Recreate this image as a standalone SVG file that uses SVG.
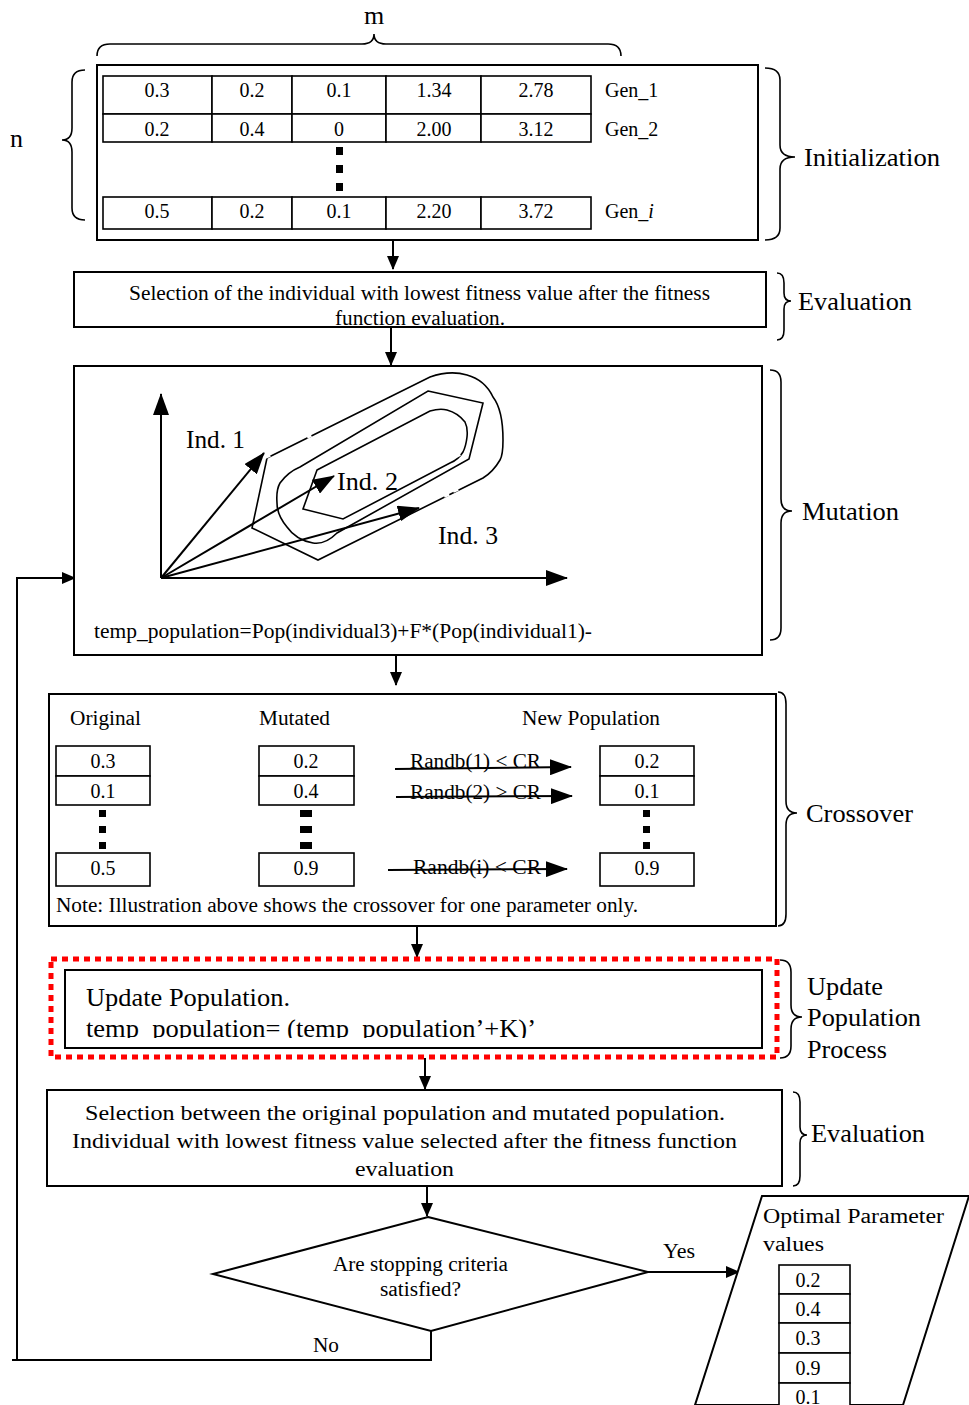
<svg xmlns="http://www.w3.org/2000/svg" width="969" height="1405" viewBox="0 0 969 1405">
  <defs>
    <marker id="ah" viewBox="0 0 14 12" refX="13" refY="6" markerWidth="14" markerHeight="12" markerUnits="userSpaceOnUse" orient="auto">
      <path d="M0,0 L14,6 L0,12 Z" fill="#000"/>
    </marker>
    <marker id="ahs" viewBox="0 0 22 16" refX="21" refY="8" markerWidth="22" markerHeight="16" markerUnits="userSpaceOnUse" orient="auto">
      <path d="M0,0 L22,8 L0,16 Z" fill="#000"/>
    </marker>
    <clipPath id="upclip"><rect x="65" y="970" width="697" height="68"/></clipPath>
    <clipPath id="evclip"><rect x="74" y="272" width="692" height="55"/></clipPath>
  </defs>
  <style>
    text { font-family: "Liberation Serif", "Times New Roman", serif; fill: #000; }
    .box { fill: #fff; stroke: #000; stroke-width: 2; }
    .cell { fill: #fff; stroke: #000; stroke-width: 1.6; }
    .ln { fill: none; stroke: #000; stroke-width: 2; }
    .br { fill: none; stroke: #000; stroke-width: 1.6; }
    .c { font-size: 20px; text-anchor: middle; }
    .t { font-size: 20px; }
    .lab { font-size: 26px; }
    .dot { fill: #000; }
  </style>
  <rect width="969" height="1405" fill="#fff"/>

  <!-- braces with their stage labels -->
  <g id="braces">
    <text x="374" y="24" class="lab" text-anchor="middle" font-size="24">m</text>
    <path class="br" d="M97,56 Q97,44 110,44 L362,44 Q374,44 374,34 Q374,44 386,44 L608,44 Q621,44 621,56"/>
    <text x="10" y="147" class="lab" font-size="24">n</text>
    <path class="br" d="M85,70 Q72,70 72,82 L72,128 Q72,140 62,140 Q72,140 72,152 L72,208 Q72,220 85,220"/>
    <path class="br" d="M765,68 Q780,68 780,80 L780,145 Q780,157 795,157 Q780,157 780,169 L780,228 Q780,240 765,240"/>
    <text x="804" y="166" class="lab" textLength="136" lengthAdjust="spacingAndGlyphs">Initialization</text>
    <path class="br" d="M777,273 Q784,273 784,283 L784,293 Q784,301 791,301 Q784,301 784,309 L784,330 Q784,340 777,340"/>
    <text x="798" y="310" class="lab" textLength="114" lengthAdjust="spacingAndGlyphs">Evaluation</text>
    <path class="br" d="M770,370 Q781,370 781,382 L781,499 Q781,511 792,511 Q781,511 781,523 L781,628 Q781,640 770,640"/>
    <text x="802" y="520" class="lab" textLength="97" lengthAdjust="spacingAndGlyphs">Mutation</text>
    <path class="br" d="M778,692 Q786,692 786,704 L786,801 Q786,813 797,813 Q786,813 786,825 L786,914 Q786,926 778,926"/>
    <text x="806" y="822" class="lab" textLength="107" lengthAdjust="spacingAndGlyphs">Crossover</text>
    <path class="br" d="M780,960 Q791,960 791,972 L791,1005 Q791,1017 802,1017 Q791,1017 791,1029 L791,1046 Q791,1058 780,1058"/>
    <text x="807" y="995" class="lab" textLength="76" lengthAdjust="spacingAndGlyphs">Update</text>
    <text x="807" y="1026" class="lab" textLength="114" lengthAdjust="spacingAndGlyphs">Population</text>
    <text x="807" y="1058" class="lab" textLength="80" lengthAdjust="spacingAndGlyphs">Process</text>
    <path class="br" d="M793,1092 Q800,1092 800,1102 L800,1127 Q800,1135 807,1135 Q800,1135 800,1143 L800,1176 Q800,1186 793,1186"/>
    <text x="811" y="1142" class="lab" textLength="114" lengthAdjust="spacingAndGlyphs">Evaluation</text>
  </g>

  <!-- connectors -->
  <g id="connectors">
    <line class="ln" x1="393" y1="240" x2="393" y2="269" marker-end="url(#ah)"/>
    <line class="ln" x1="391" y1="327" x2="391" y2="365" marker-end="url(#ah)"/>
    <line class="ln" x1="396" y1="655" x2="396" y2="685" marker-end="url(#ah)"/>
    <line class="ln" x1="417" y1="926" x2="417" y2="957" marker-end="url(#ah)"/>
    <line class="ln" x1="425" y1="1058" x2="425" y2="1089" marker-end="url(#ah)"/>
    <line class="ln" x1="427" y1="1186" x2="427" y2="1216" marker-end="url(#ah)"/>
    <line class="ln" x1="648" y1="1272" x2="739" y2="1272" stroke-width="2.5" marker-end="url(#ah)"/>
    <text x="663" y="1258" class="t" textLength="32" lengthAdjust="spacingAndGlyphs">Yes</text>
    <polyline class="ln" points="431,1331 431,1360 12,1360"/>
    <polyline class="ln" points="17,1360 17,578 75,578" marker-end="url(#ah)"/>
    <text x="313" y="1352" class="t" textLength="26" lengthAdjust="spacingAndGlyphs">No</text>
  </g>

  <!-- initial population -->
  <g id="initialization">
    <rect class="box" x="97" y="65" width="661" height="175"/>
    <g class="cells">
      <rect class="cell" x="103" y="76" width="109" height="38"/>
      <rect class="cell" x="212" y="76" width="80" height="38"/>
      <rect class="cell" x="292" y="76" width="94" height="38"/>
      <rect class="cell" x="386" y="76" width="95" height="38"/>
      <rect class="cell" x="481" y="76" width="110" height="38"/>
      <rect class="cell" x="103" y="114" width="109" height="28"/>
      <rect class="cell" x="212" y="114" width="80" height="28"/>
      <rect class="cell" x="292" y="114" width="94" height="28"/>
      <rect class="cell" x="386" y="114" width="95" height="28"/>
      <rect class="cell" x="481" y="114" width="110" height="28"/>
      <rect class="cell" x="103" y="197" width="109" height="32"/>
      <rect class="cell" x="212" y="197" width="80" height="32"/>
      <rect class="cell" x="292" y="197" width="94" height="32"/>
      <rect class="cell" x="386" y="197" width="95" height="32"/>
      <rect class="cell" x="481" y="197" width="110" height="32"/>
    </g>
    <text class="c" x="157" y="97">0.3</text>
    <text class="c" x="252" y="97">0.2</text>
    <text class="c" x="339" y="97">0.1</text>
    <text class="c" x="434" y="97">1.34</text>
    <text class="c" x="536" y="97">2.78</text>
    <text class="t" x="605" y="97">Gen_1</text>
    <text class="c" x="157" y="136">0.2</text>
    <text class="c" x="252" y="136">0.4</text>
    <text class="c" x="339" y="136">0</text>
    <text class="c" x="434" y="136">2.00</text>
    <text class="c" x="536" y="136">3.12</text>
    <text class="t" x="605" y="136">Gen_2</text>
    <rect class="dot" x="336" y="147" width="7" height="8"/>
    <rect class="dot" x="336" y="165" width="7" height="8"/>
    <rect class="dot" x="336" y="183" width="7" height="8"/>
    <text class="c" x="157" y="218">0.5</text>
    <text class="c" x="252" y="218">0.2</text>
    <text class="c" x="339" y="218">0.1</text>
    <text class="c" x="434" y="218">2.20</text>
    <text class="c" x="536" y="218">3.72</text>
    <text class="t" x="605" y="218">Gen_<tspan font-style="italic">i</tspan></text>
  </g>

  <!-- first evaluation -->
  <g id="evaluation1">
    <rect class="box" x="74" y="272" width="692" height="55"/>
    <g clip-path="url(#evclip)">
      <text x="129" y="300" class="t" textLength="581" lengthAdjust="spacingAndGlyphs">Selection of the individual with lowest fitness value after the fitness</text>
      <text x="335" y="325" class="t" textLength="170" lengthAdjust="spacingAndGlyphs">function evaluation.</text>
    </g>
    <line x1="74" y1="327" x2="766" y2="327" stroke="#000" stroke-width="2"/>
  </g>

  <!-- mutation sketch -->
  <g id="mutation">
    <rect class="box" x="74" y="366" width="688" height="289"/>
    <line class="ln" x1="161" y1="578" x2="161" y2="394" stroke-width="2.5" marker-end="url(#ahs)"/>
    <line class="ln" x1="161" y1="578" x2="567" y2="578" stroke-width="2.5" marker-end="url(#ahs)"/>
    <g class="br" stroke-width="1.8">
      <!-- outer contour -->
      <path d="M267,458 L430,377 Q450,370 467,375 Q485,380 493,397 Q503,410 503,440 Q503,455 500,460 Q493,472 483,478 L318,560 L252,528 Z"/>
      <!-- middle contour -->
      <path d="M428,391 L483,403 L469,459 L337,533 Q325,545 313,543 Q296,540 287,527 Q277,515 277,503 Q276,490 280,483 Q288,472 300,467 Z"/>
      <!-- inner contour -->
      <path d="M317,470 L430,411 Q440,408 447,410 Q458,413 465,422 Q468,428 467,437 Q466,446 463,452 Q458,460 450,463 L343,519 L303,509 Z"/>
    </g>
    <!-- breaks in the contour lines -->
    <g stroke="#fff" stroke-width="4">
      <line x1="307" y1="437" x2="311" y2="435"/>
      <line x1="327" y1="460" x2="331" y2="458"/>
      <line x1="456" y1="456" x2="460" y2="454"/>
      <line x1="444" y1="496" x2="449" y2="494"/>
      <line x1="453" y1="491" x2="458" y2="489"/>
      <line x1="265" y1="457" x2="270" y2="455"/>
    </g>
    <line class="ln" x1="161" y1="578" x2="264" y2="453" stroke-width="2.5" marker-end="url(#ahs)"/>
    <line class="ln" x1="161" y1="578" x2="334" y2="476" stroke-width="2.5" marker-end="url(#ahs)"/>
    <line class="ln" x1="161" y1="578" x2="419" y2="508" stroke-width="2.5" marker-end="url(#ahs)"/>
    <text x="186" y="448" class="lab" font-size="25" textLength="59" lengthAdjust="spacingAndGlyphs">Ind. 1</text>
    <text x="337" y="490" class="lab" font-size="25" textLength="61" lengthAdjust="spacingAndGlyphs">Ind. 2</text>
    <text x="438" y="544" class="lab" font-size="25" textLength="60" lengthAdjust="spacingAndGlyphs">Ind. 3</text>
    <text x="94" y="638" class="t" textLength="498" lengthAdjust="spacingAndGlyphs">temp_population=Pop(individual3)+F*(Pop(individual1)-</text>
  </g>

  <!-- crossover -->
  <g id="crossover">
    <rect class="box" x="49" y="694" width="727" height="232"/>
    <text x="70" y="725" class="t" textLength="71" lengthAdjust="spacingAndGlyphs">Original</text>
    <text x="259" y="725" class="t" textLength="71" lengthAdjust="spacingAndGlyphs">Mutated</text>
    <text x="522" y="725" class="t" textLength="138" lengthAdjust="spacingAndGlyphs">New Population</text>
    <rect class="cell" x="56" y="746" width="94" height="30"/>
    <rect class="cell" x="56" y="776" width="94" height="29"/>
    <rect class="cell" x="56" y="853" width="94" height="33"/>
    <rect class="cell" x="259" y="746" width="95" height="30"/>
    <rect class="cell" x="259" y="776" width="95" height="29"/>
    <rect class="cell" x="259" y="853" width="95" height="33"/>
    <rect class="cell" x="600" y="746" width="94" height="30"/>
    <rect class="cell" x="600" y="776" width="94" height="29"/>
    <rect class="cell" x="600" y="853" width="94" height="33"/>
    <text class="c" x="103" y="768">0.3</text>
    <text class="c" x="103" y="798">0.1</text>
    <text class="c" x="103" y="875">0.5</text>
    <text class="c" x="306" y="768">0.2</text>
    <text class="c" x="306" y="798">0.4</text>
    <text class="c" x="306" y="875">0.9</text>
    <text class="c" x="647" y="768">0.2</text>
    <text class="c" x="647" y="798">0.1</text>
    <text class="c" x="647" y="875">0.9</text>
    <rect class="dot" x="99" y="810" width="7" height="7"/>
    <rect class="dot" x="99" y="826" width="7" height="7"/>
    <rect class="dot" x="99" y="842" width="7" height="7"/>
    <rect class="dot" x="300" y="810" width="12" height="7"/>
    <rect class="dot" x="300" y="826" width="12" height="7"/>
    <rect class="dot" x="300" y="842" width="12" height="7"/>
    <rect class="dot" x="643" y="810" width="7" height="7"/>
    <rect class="dot" x="643" y="826" width="7" height="7"/>
    <rect class="dot" x="643" y="842" width="7" height="7"/>
    <text x="410" y="768" class="t" textLength="131" lengthAdjust="spacingAndGlyphs">Randb(1) &lt; CR</text>
    <text x="410" y="799" class="t" textLength="131" lengthAdjust="spacingAndGlyphs">Randb(2) &gt; CR</text>
    <text x="413" y="874" class="t" textLength="128" lengthAdjust="spacingAndGlyphs">Randb(i) &lt; CR</text>
    <line class="ln" x1="395" y1="769" x2="571" y2="767" stroke-width="2.5" marker-end="url(#ahs)"/>
    <line class="ln" x1="396" y1="797" x2="572" y2="796" stroke-width="2.5" marker-end="url(#ahs)"/>
    <line class="ln" x1="388" y1="870" x2="567" y2="869" stroke-width="2.5" marker-end="url(#ahs)"/>
    <text x="56" y="912" class="t" textLength="582" lengthAdjust="spacingAndGlyphs">Note: Illustration above shows the crossover for one parameter only.</text>
  </g>

  <!-- population update -->
  <g id="update">
    <rect x="51" y="959" width="726" height="98" fill="none" stroke="#f00" stroke-width="5" stroke-dasharray="6 5"/>
    <rect class="box" x="65" y="970" width="697" height="78"/>
    <text x="86" y="1006" class="lab" font-size="25" textLength="204" lengthAdjust="spacingAndGlyphs">Update Population.</text>
    <g clip-path="url(#upclip)">
      <text x="86" y="1037" class="lab" font-size="25" textLength="450" lengthAdjust="spacingAndGlyphs">temp_population= (temp_population’+K)’</text>
    </g>
  </g>

  <!-- second evaluation -->
  <g id="evaluation2">
    <rect class="box" x="47" y="1090" width="735" height="96"/>
    <text x="85" y="1120" class="t" font-size="22" textLength="640" lengthAdjust="spacingAndGlyphs">Selection between the original population and mutated population.</text>
    <text x="72" y="1148" class="t" font-size="22" textLength="665" lengthAdjust="spacingAndGlyphs">Individual with lowest fitness value selected after the fitness function</text>
    <text x="355" y="1176" class="t" font-size="22" textLength="99" lengthAdjust="spacingAndGlyphs">evaluation</text>
  </g>

  <!-- stopping test -->
  <g id="decision">
    <polygon class="box" points="428,1217 648,1272 431,1331 213,1274"/>
    <text x="333" y="1271" class="t" textLength="175" lengthAdjust="spacingAndGlyphs">Are stopping criteria</text>
    <text x="380" y="1296" class="t" textLength="81" lengthAdjust="spacingAndGlyphs">satisfied?</text>
  </g>

  <!-- result output -->
  <g id="output">
    <polygon class="box" points="762,1196 969,1196 903,1405 695,1405"/>
    <text x="763" y="1223" class="t" font-size="22" textLength="181" lengthAdjust="spacingAndGlyphs">Optimal Parameter</text>
    <text x="763" y="1251" class="t" font-size="22" textLength="61" lengthAdjust="spacingAndGlyphs">values</text>
    <rect class="cell" x="779" y="1265" width="71" height="29"/>
    <rect class="cell" x="779" y="1294" width="71" height="29"/>
    <rect class="cell" x="779" y="1323" width="71" height="30"/>
    <rect class="cell" x="779" y="1353" width="71" height="30"/>
    <rect class="cell" x="779" y="1383" width="71" height="30"/>
    <text class="c" x="808" y="1287" font-size="22">0.2</text>
    <text class="c" x="808" y="1316" font-size="22">0.4</text>
    <text class="c" x="808" y="1345" font-size="22">0.3</text>
    <text class="c" x="808" y="1375" font-size="22">0.9</text>
    <text class="c" x="808" y="1404" font-size="22">0.1</text>
  </g>
</svg>
